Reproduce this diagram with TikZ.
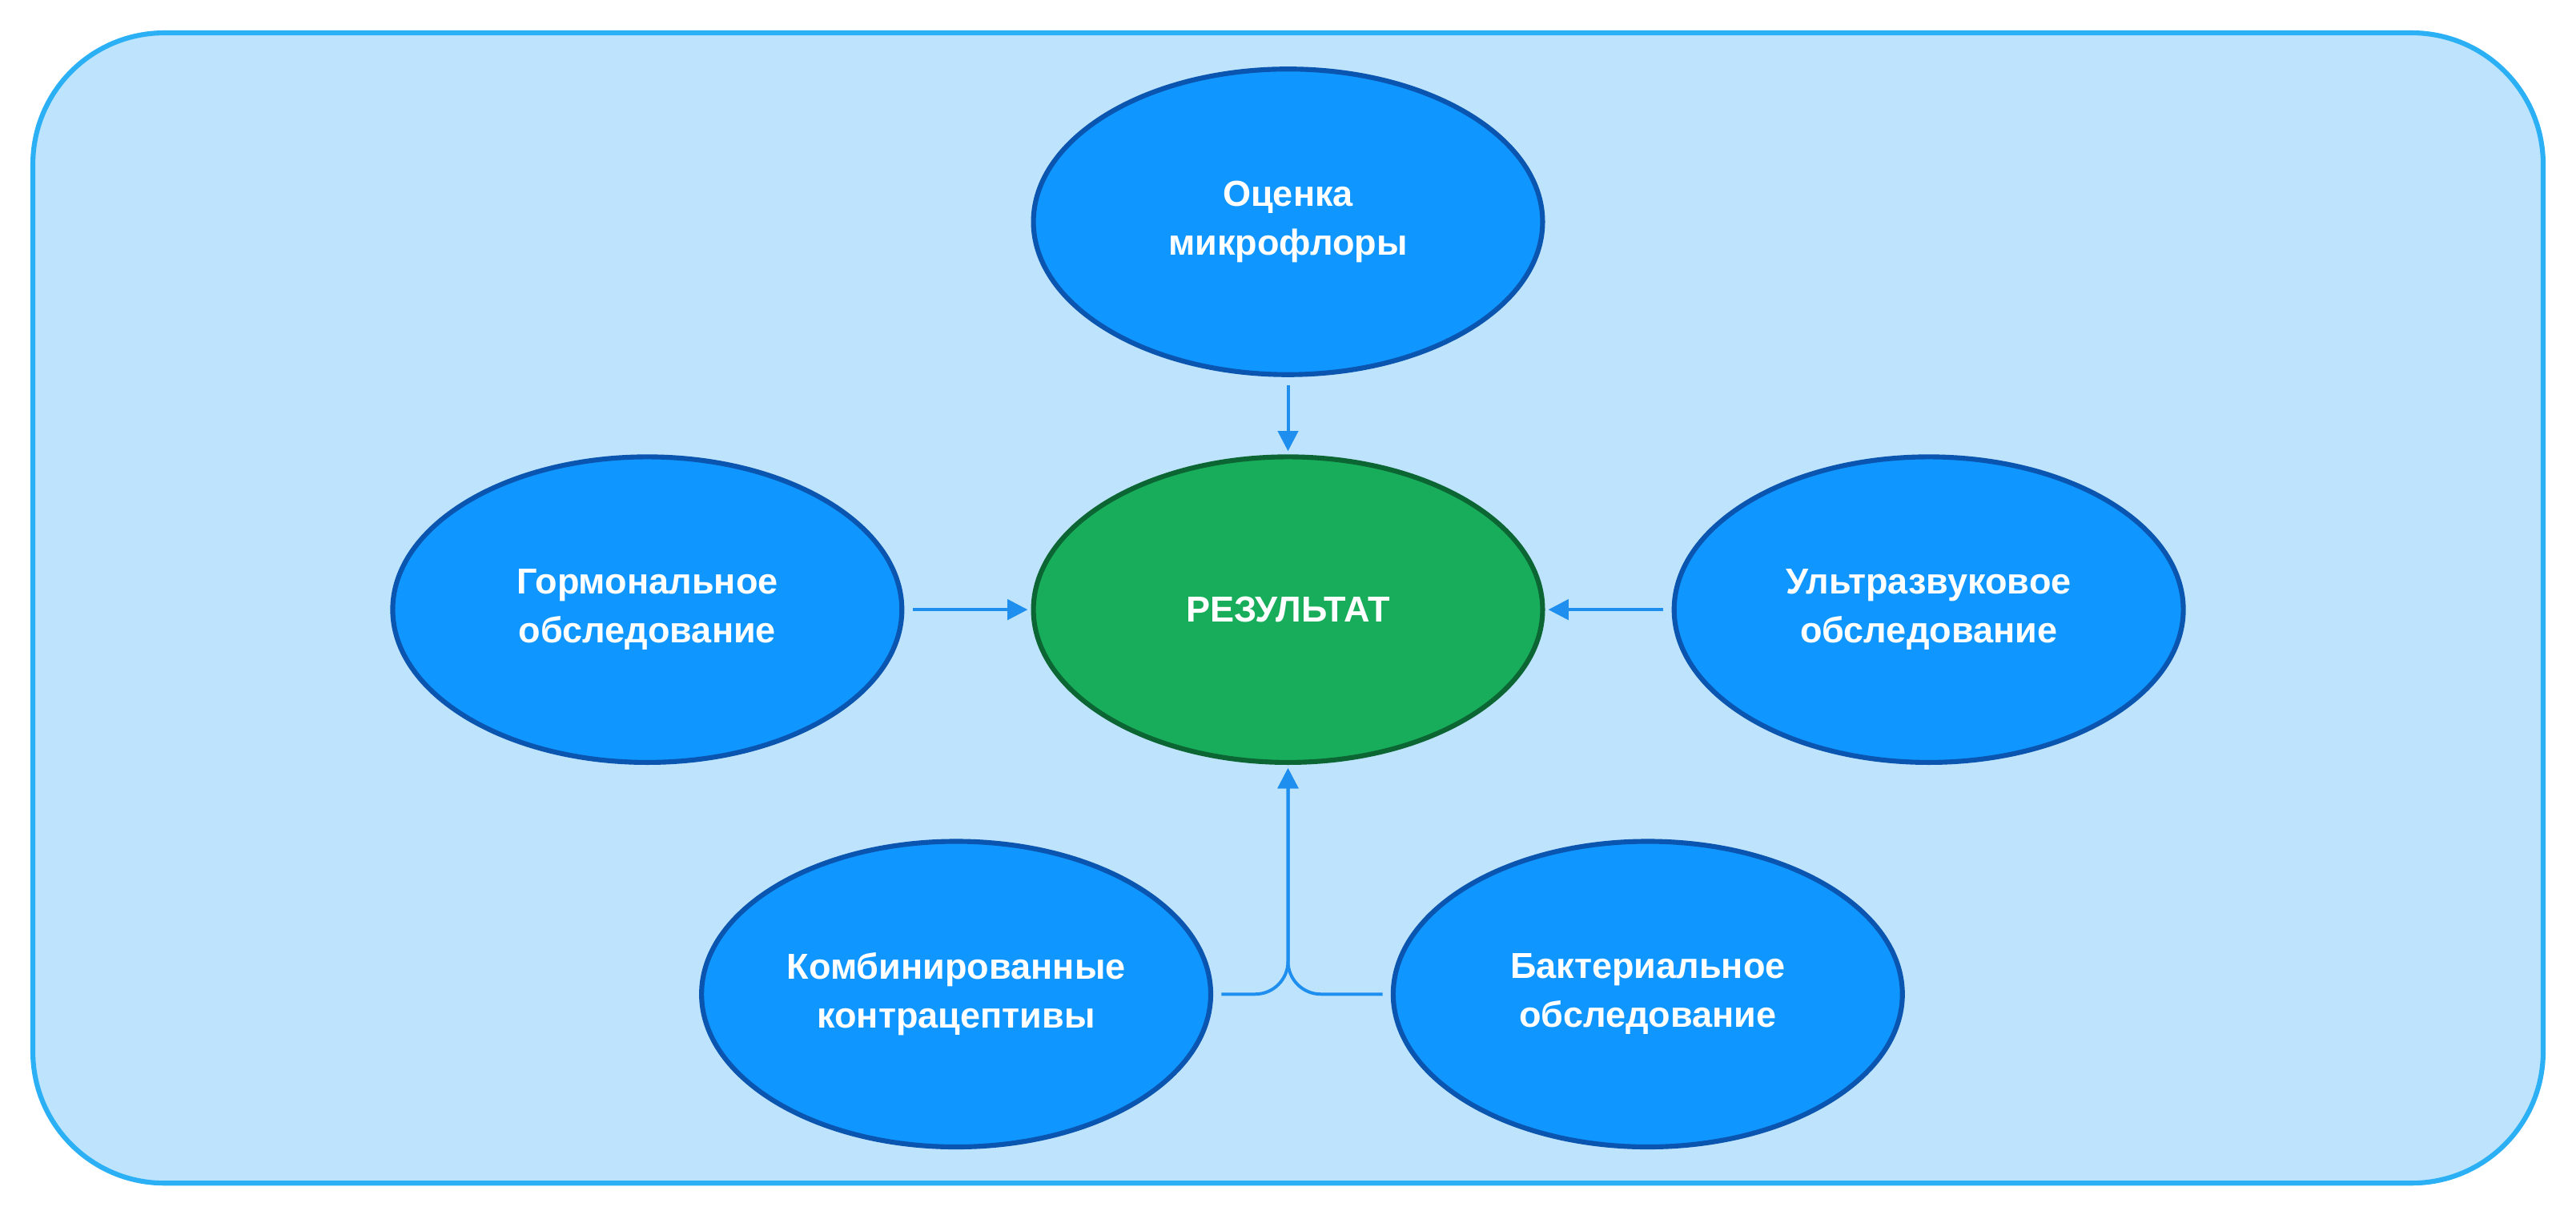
\documentclass[tikz,border=0pt]{standalone}
\usepackage{fontspec}
\setmainfont{Liberation Sans}
\usetikzlibrary{arrows.meta,shapes.geometric}
\definecolor{bgfill}{HTML}{BEE3FC}
\definecolor{bgline}{HTML}{2BB0F5}
\definecolor{ovfill}{HTML}{0F96FF}
\definecolor{ovline}{HTML}{0A55B0}
\definecolor{cfill}{HTML}{18AD5A}
\definecolor{cline}{HTML}{0B6633}
\definecolor{arr}{HTML}{1E8FEF}
\tikzset{
  ov/.style={ellipse, draw=ovline, fill=ovfill, line width=1.7pt, minimum width=6.2cm, minimum height=3.72cm, inner sep=0pt, text=white, font=\bfseries\fontsize{12.5}{17}\selectfont, align=center},
  cov/.style={ov, draw=cline, fill=cfill},
  conn/.style={draw=arr, line width=1.1pt, -{Triangle[length=7pt,width=7pt]}}
}
\begin{document}
\begin{tikzpicture}[x=0.02cm,y=-0.02cm]
\useasboundingbox (0,0) rectangle (1568,739.4);
\draw[fill=bgfill, draw=bgline, line width=1.7pt, rounded corners=1.6cm] (20,20) rectangle (1548,720);
\node[ov] (top) at (784,135) {Оценка\\микрофлоры};
\node[cov] (c) at (784,371) {РЕЗУЛЬТАТ};
\node[ov] (l) at (394,371) {Гормональное\\обследование};
\node[ov] (r) at (1174,371) {Ультразвуковое\\обследование};
\node[ov] (bl) at (582,605) {Комбинированные\\контрацептивы};
\node[ov] (br) at (1003,605) {Бактериальное\\обследование};
\draw[conn] ([yshift=-0.1cm]top.south) -- ([yshift=0.04cm]c.north);
\draw[conn] ([xshift=0.1cm]l.east) -- ([xshift=-0.04cm]c.west);
\draw[conn] ([xshift=-0.1cm]r.west) -- ([xshift=0.04cm]c.east);
\draw[conn, rounded corners=0.4cm] ([xshift=0.1cm]bl.east) -| ([yshift=-0.04cm]c.south);
\draw[conn, rounded corners=0.4cm] ([xshift=-0.1cm]br.west) -| ([yshift=-0.04cm]c.south);
\end{tikzpicture}
\end{document}
